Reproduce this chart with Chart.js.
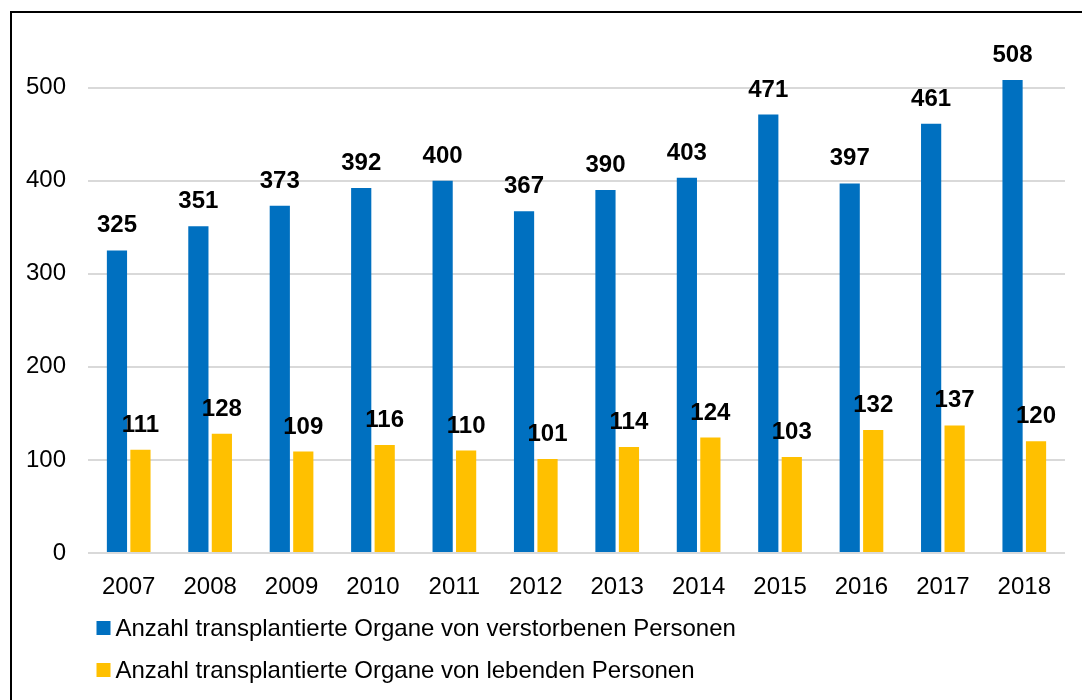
<!DOCTYPE html>
<html>
<head>
<meta charset="utf-8">
<script src="https://cdn.jsdelivr.net/npm/chart.js@4/dist/chart.umd.min.js"></script>
<style>
  html, body { margin: 0; padding: 0; width: 1082px; height: 700px; overflow: hidden; background: #fff; }
  #frame { position: absolute; left: 10px; top: 11px; width: 1200px; height: 800px; border: 2px solid #000; box-sizing: border-box; }
  #wrap { position: absolute; left: 0; top: 0; width: 1082px; height: 700px; }
</style>
</head>
<body>
<div id="frame"></div>
<div id="wrap"><canvas id="c" width="1082" height="700"></canvas></div>
<script>
const categories = ['2007','2008','2009','2010','2011','2012','2013','2014','2015','2016','2017','2018'];
const deceased = [325, 351, 373, 392, 400, 367, 390, 403, 471, 397, 461, 508];
const living = [111, 128, 109, 116, 110, 101, 114, 124, 103, 132, 137, 120];
const yTickValues = [0, 100, 200, 300, 400, 500];
const seriesLabels = ['Anzahl transplantierte Organe von verstorbenen Personen', 'Anzahl transplantierte Organe von lebenden Personen'];
const seriesColors = ['#0070C0', '#FFC000'];

const FONT = '"Liberation Sans", Arial, sans-serif';

const valueLabels = {
  id: 'valueLabels',
  afterDatasetsDraw(chart) {
    const ctx = chart.ctx;
    ctx.save();
    ctx.font = 'bold 24px ' + FONT;
    ctx.fillStyle = '#000';
    ctx.textAlign = 'center';
    ctx.textBaseline = 'alphabetic';
    chart.data.datasets.forEach((ds, di) => {
      const meta = chart.getDatasetMeta(di);
      meta.data.forEach((el, i) => {
        ctx.fillText(String(ds.data[i]), el.x, el.y - 18);
      });
    });
    ctx.restore();
  }
};

const customLegend = {
  id: 'customLegend',
  afterDraw(chart) {
    const ctx = chart.ctx;
    const left = chart.chartArea.left + 8.5;
    const base = chart.chartArea.bottom;
    ctx.save();
    ctx.font = '24px ' + FONT;
    ctx.textBaseline = 'alphabetic';
    ctx.textAlign = 'left';
    chart.data.datasets.forEach((ds, di) => {
      const boxTop = base + 68 + di * 42;
      ctx.fillStyle = ds.backgroundColor;
      ctx.fillRect(left, boxTop, 14, 14);
      ctx.fillStyle = '#000';
      ctx.fillText(ds.label, left + 19, boxTop + 15);
    });
    ctx.restore();
  }
};

new Chart(document.getElementById('c'), {
  type: 'bar',
  data: {
    labels: categories,
    datasets: [
      { label: seriesLabels[0], data: deceased, backgroundColor: seriesColors[0], categoryPercentage: 0.577, barPercentage: 0.86 },
      { label: seriesLabels[1], data: living, backgroundColor: seriesColors[1], categoryPercentage: 0.577, barPercentage: 0.86 }
    ]
  },
  options: {
    responsive: false,
    animation: false,
    layout: { padding: { left: 0, right: 17, top: 41, bottom: 97 } },
    plugins: {
      legend: { display: false },
      tooltip: { enabled: false }
    },
    scales: {
      x: {
        grid: { display: false },
        border: { display: false },
        ticks: { color: '#000', font: { family: FONT, size: 24 }, padding: 12, maxRotation: 0 },
        afterFit(scale) { scale.height = 50; }
      },
      y: {
        min: 0, max: 550,
        bounds: 'data',
        grid: { color: '#d9d9d9', lineWidth: 2, drawTicks: false },
        border: { display: false },
        ticks: { color: '#000', font: { family: FONT, size: 24 }, padding: 22 },
        afterBuildTicks(scale) { scale.ticks = yTickValues.map(v => ({ value: v })); },
        afterFit(scale) { scale.width = 88; }
      }
    }
  },
  plugins: [valueLabels, customLegend]
});
</script>
</body>
</html>
